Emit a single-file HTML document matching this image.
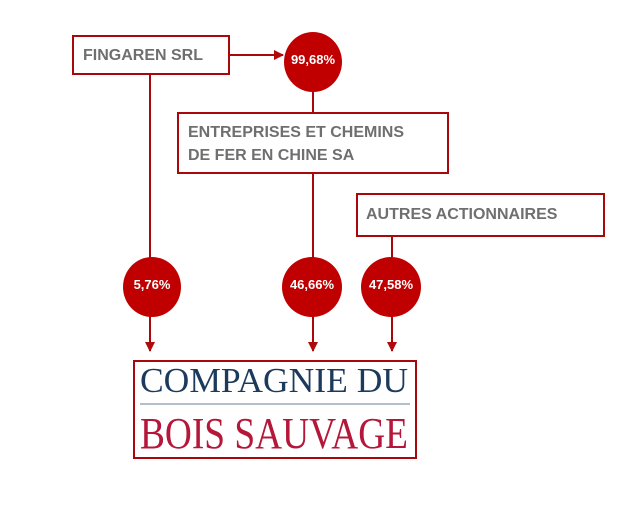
<!DOCTYPE html>
<html><head><meta charset="utf-8"><style>
html,body{margin:0;padding:0;background:#fff;width:636px;height:516px;overflow:hidden}
svg{display:block}
</style></head><body>
<svg width="636" height="516" viewBox="0 0 636 516" xmlns="http://www.w3.org/2000/svg">
<defs>
<marker id="a" markerWidth="10" markerHeight="10" refX="9" refY="5" orient="auto" markerUnits="userSpaceOnUse">
<path d="M0,0 L10,5 L0,10 Z" fill="#b00a0a"/></marker>
</defs>
<g stroke="#a8080c" stroke-width="2" fill="none">
<line x1="229" y1="55" x2="283" y2="55" marker-end="url(#a)"/>
<line x1="313" y1="90" x2="313" y2="113"/>
<line x1="150" y1="74" x2="150" y2="258"/>
<line x1="313" y1="173" x2="313" y2="258"/>
<line x1="392" y1="236" x2="392" y2="258"/>
<line x1="150" y1="315" x2="150" y2="351" marker-end="url(#a)"/>
<line x1="313" y1="315" x2="313" y2="351" marker-end="url(#a)"/>
<line x1="392" y1="315" x2="392" y2="351" marker-end="url(#a)"/>
<rect x="73" y="36" width="156" height="38" fill="#fff"/>
<rect x="178" y="113" width="270" height="60" fill="#fff"/>
<rect x="357" y="194" width="247" height="42" fill="#fff"/>
<rect x="134" y="361" width="282" height="97" fill="#fff"/>
</g>
<g fill="#c00000">
<ellipse cx="313" cy="62" rx="29" ry="30"/>
<ellipse cx="152" cy="287" rx="29" ry="30"/>
<ellipse cx="312" cy="287" rx="30" ry="30"/>
<ellipse cx="391" cy="287" rx="30" ry="30"/>
</g>
<g font-family="Liberation Sans, sans-serif" font-weight="bold" fill="#fff" font-size="13" text-anchor="middle">
<text x="313" y="64">99,68%</text>
<text x="152" y="289">5,76%</text>
<text x="312" y="289">46,66%</text>
<text x="391" y="289">47,58%</text>
</g>
<g font-family="Liberation Sans, sans-serif" font-weight="bold" fill="#6f6f6f" font-size="16">
<text x="83" y="60">FINGAREN SRL</text>
<text x="188" y="137">ENTREPRISES ET CHEMINS</text>
<text x="188" y="160">DE FER EN CHINE SA</text>
<text x="366" y="219">AUTRES ACTIONNAIRES</text>
</g>
<text x="140" y="392" font-family="Liberation Serif, serif" font-size="35" fill="#1b3a5c" textLength="268" lengthAdjust="spacingAndGlyphs">COMPAGNIE DU</text>
<line x1="140" y1="404" x2="410" y2="404" stroke="#b4c0c8" stroke-width="2"/>
<text x="140" y="448" font-family="Liberation Serif, serif" font-size="44" fill="#b5173a" textLength="268" lengthAdjust="spacingAndGlyphs">BOIS SAUVAGE</text>
</svg>
</body></html>
